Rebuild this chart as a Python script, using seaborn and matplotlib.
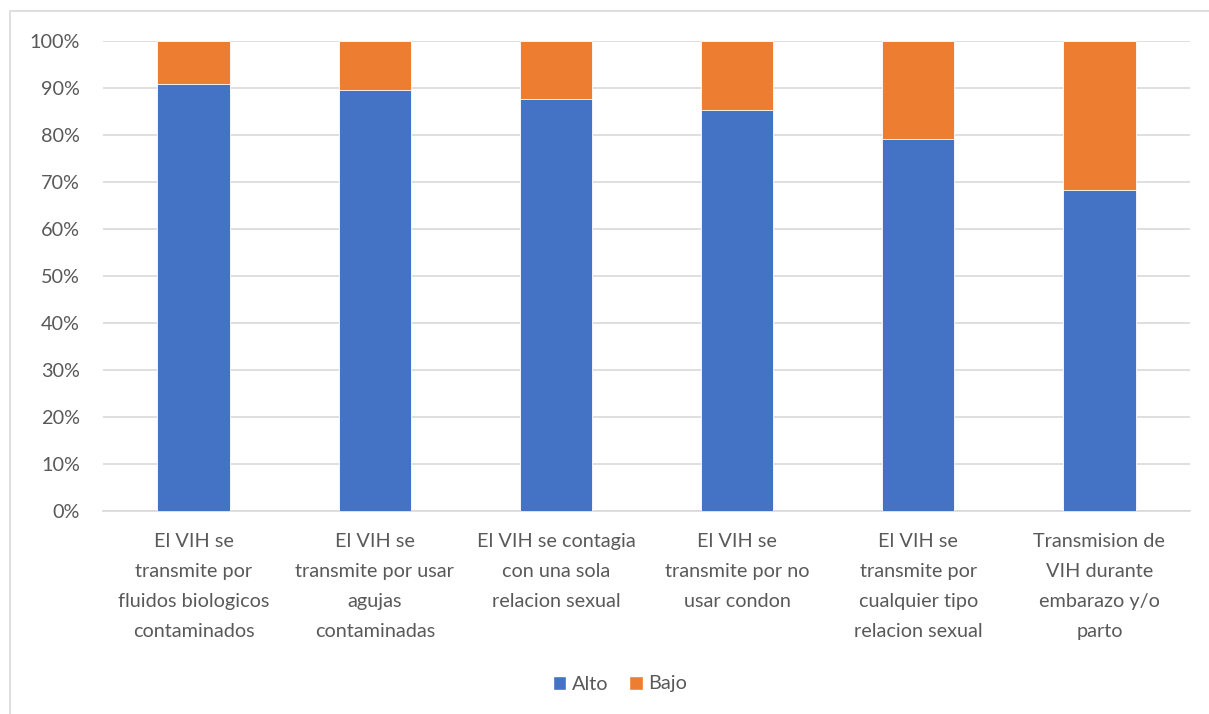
import matplotlib
matplotlib.use("Agg")
import matplotlib.pyplot as plt
import seaborn as sns
import pandas as pd
from matplotlib.patches import Rectangle, Patch
from matplotlib.ticker import PercentFormatter

categorias = [
    "El VIH se\ntransmite por\nfluidos biologicos\ncontaminados",
    "El VIH se\ntransmite por usar\nagujas\ncontaminadas",
    "El VIH se contagia\ncon una sola\nrelacion sexual",
    "El VIH se\ntransmite por no\nusar condon",
    "El VIH se\ntransmite por\ncualquier tipo\nrelacion sexual",
    "Transmision de\nVIH durante\nembarazo y/o\nparto",
]
alto = [90.8, 89.6, 87.7, 85.4, 79.2, 68.4]
bajo = [100 - v for v in alto]

azul = "#4472C4"
naranja = "#ED7D31"
texto = "#595959"

sns.set_theme(style="white")
plt.rcParams["font.family"] = ["Lato", "DejaVu Sans"]

df = pd.DataFrame({"categoria": categorias, "Alto": alto, "Bajo": bajo})
df["total"] = df["Alto"] + df["Bajo"]

fig = plt.figure(figsize=(12.09, 7.14), dpi=100)
ax = fig.add_axes([103 / 1209, 1 - 511 / 714, (1190 - 103) / 1209, 470 / 714])

# stacked bars: total (Bajo on top) first, then Alto over it
sns.barplot(data=df, x="categoria", y="total", color=naranja, width=0.4,
            saturation=1, ax=ax, zorder=2)
sns.barplot(data=df, x="categoria", y="Alto", color=azul, width=0.4,
            saturation=1, ax=ax, zorder=3)
for p in ax.patches:
    p.set_edgecolor("white")
    p.set_linewidth(0.6)

ax.set_ylim(0, 100)
ax.set_xlim(-0.5, len(categorias) - 0.5)
ax.set_yticks(range(0, 101, 10))
ax.yaxis.set_major_formatter(PercentFormatter(decimals=0))
ax.yaxis.grid(True, color="#D9D9D9", linewidth=1.2, zorder=0)
ax.set_axisbelow(True)
for s in ax.spines.values():
    s.set_visible(False)
ax.spines["bottom"].set_visible(True)
ax.spines["bottom"].set_color("#D9D9D9")
ax.spines["bottom"].set_linewidth(1.2)
ax.set_xlabel("")
ax.set_ylabel("")
ax.tick_params(axis="y", labelsize=14.3, colors=texto, pad=16.5, length=0)
ax.tick_params(axis="x", labelsize=14.3, colors=texto, pad=16, length=0)
for lbl in ax.get_xticklabels():
    lbl.set_linespacing(1.92)
    lbl.set_horizontalalignment("center")

handles = [Patch(facecolor=azul, label="Alto"), Patch(facecolor=naranja, label="Bajo")]
fig.legend(handles=handles, loc="center", bbox_to_anchor=(620 / 1209, 1 - 684 / 714),
           ncol=2, frameon=False, fontsize=14.3, handlelength=0.7, handleheight=0.7,
           handletextpad=0.3, columnspacing=1.0, labelcolor=texto)

# chart area frame
fig.patches.append(Rectangle((9.5 / 1209, -0.01), 1.02, 1 - 11.5 / 714 + 0.01,
                             transform=fig.transFigure, fill=False,
                             edgecolor="#D9D9D9", linewidth=1.2))

fig.savefig("out.png", dpi=100, facecolor="white")
